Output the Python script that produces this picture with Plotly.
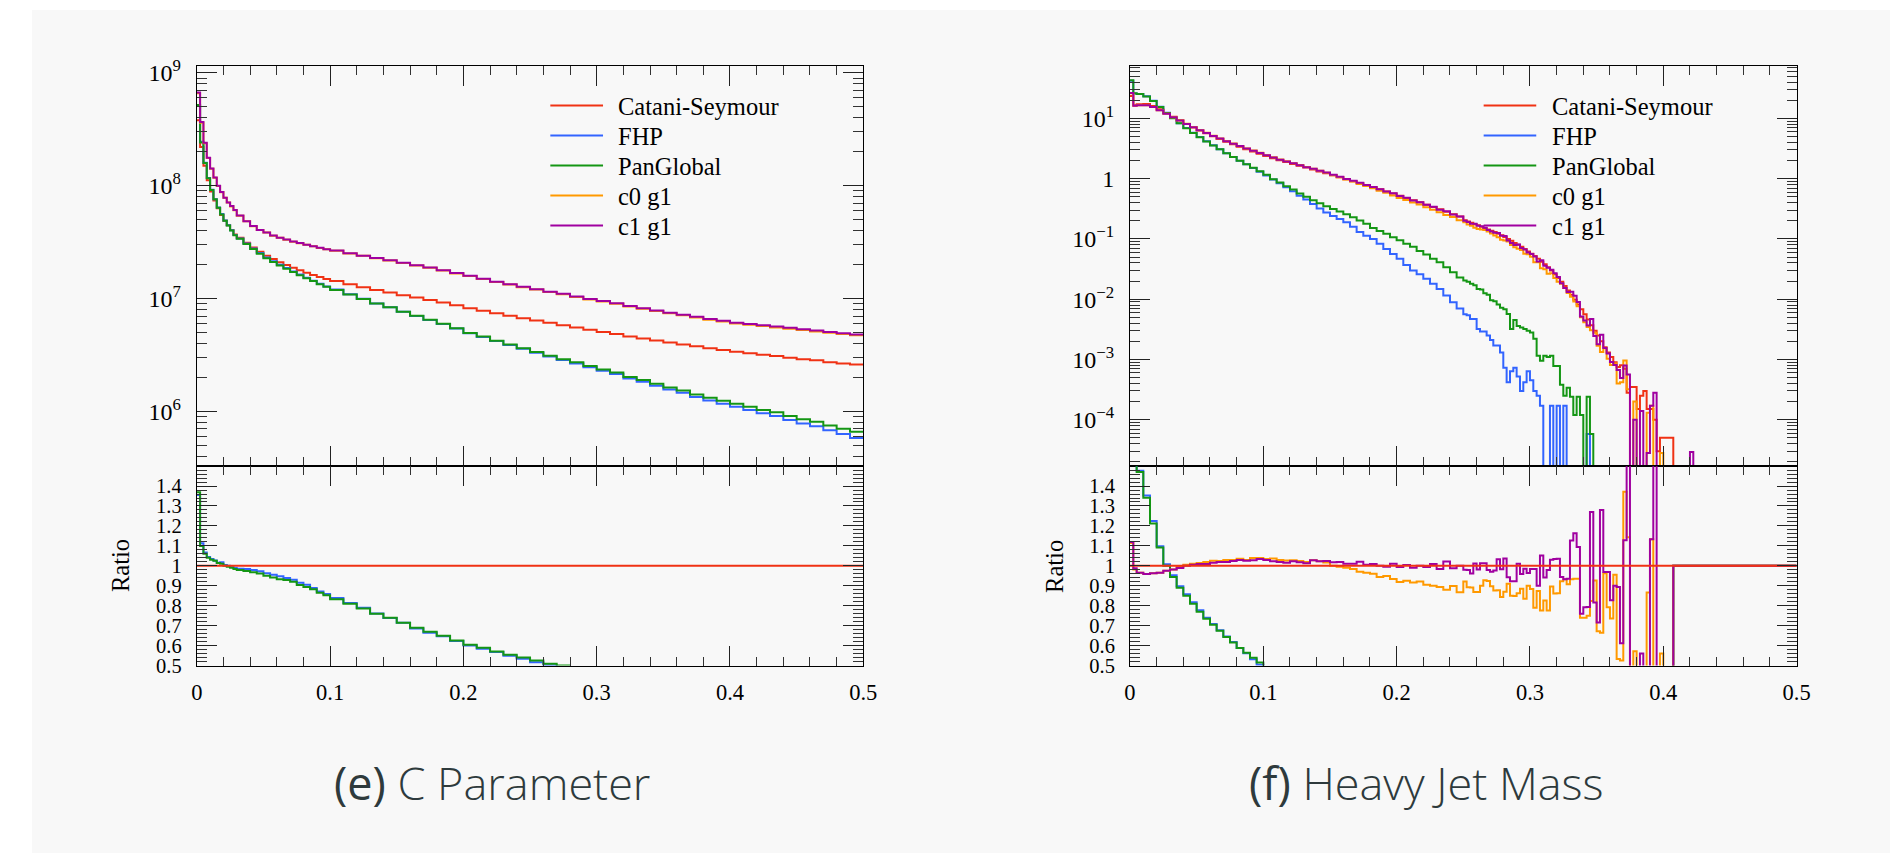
import plotly.graph_objects as go

# ---------------------------------------------------------------- data
SERIES = ["Catani-Seymour", "FHP", "PanGlobal", "c0 g1", "c1 g1"]
COLORS = ["#f03214", "#3264ff", "#149614", "#ff9900", "#a000a0"]

# C parameter: bin edges (fine near 0, coarser later)
C_EDGES = ([round(i * 0.0025, 4) for i in range(12)]
           + [round(0.03 + i * 0.005, 4) for i in range(14)]
           + [round(0.1 + i * 0.01, 4) for i in range(41)])

C_CS = [3.8e8, 2.2e8, 1.5e8, 1.12e8, 8.9e7, 7.4e7, 6.3e7, 5.5e7, 4.9e7, 4.45e7, 4.05e7, 3.7e7,
        3.45e7, 3.12e7, 2.84e7, 2.6e7, 2.4e7, 2.24e7, 2.1e7, 1.98e7, 1.87e7, 1.78e7, 1.69e7, 1.62e7, 1.55e7, 1.49e7,
        1.43e7, 1.34e7, 1.26e7, 1.19e7, 1.13e7, 1.07e7, 1.02e7, 9.7e6, 9.2e6, 8.7e6,
        8.2e6, 7.8e6, 7.4e6, 7.05e6, 6.7e6, 6.4e6, 6.1e6, 5.8e6, 5.55e6, 5.3e6,
        5.05e6, 4.85e6, 4.6e6, 4.42e6, 4.25e6, 4.08e6, 3.92e6, 3.77e6, 3.63e6, 3.5e6,
        3.38e6, 3.27e6, 3.17e6, 3.1e6, 2.98e6, 2.89e6, 2.84e6, 2.72e6, 2.65e6, 2.6e6]
C_FHP = [5.15e8, 2.45e8, 1.6e8, 1.17e8, 9.2e7, 7.6e7, 6.4e7, 5.6e7, 4.92e7, 4.45e7, 4.03e7, 3.66e7,
         3.4e7, 3.07e7, 2.78e7, 2.53e7, 2.31e7, 2.14e7, 1.99e7, 1.86e7, 1.74e7, 1.63e7, 1.53e7, 1.44e7, 1.35e7, 1.28e7,
         1.2e7, 1.09e7, 9.95e6, 9.05e6, 8.35e6, 7.65e6, 7.0e6, 6.45e6, 5.95e6, 5.42e6,
         4.93e6, 4.56e6, 4.2e6, 3.87e6, 3.58e6, 3.31e6, 3.06e6, 2.85e6, 2.66e6, 2.46e6,
         2.29e6, 2.14e6, 1.96e6, 1.83e6, 1.69e6, 1.56e6, 1.46e6, 1.34e6, 1.25e6, 1.17e6,
         1.1e6, 1.03e6, 9.6e5, 9.1e5, 8.4e5, 7.8e5, 7.4e5, 6.8e5, 6.3e5, 5.8e5]
C_PG = [5.2e8, 2.42e8, 1.59e8, 1.165e8, 9.17e7, 7.59e7, 6.39e7, 5.56e7, 4.9e7, 4.43e7, 4.01e7, 3.64e7,
        3.38e7, 3.04e7, 2.75e7, 2.5e7, 2.28e7, 2.11e7, 1.96e7, 1.84e7, 1.72e7, 1.61e7, 1.51e7, 1.43e7, 1.34e7, 1.27e7,
        1.19e7, 1.085e7, 9.9e6, 9.04e6, 8.36e6, 7.65e6, 7.04e6, 6.5e6, 5.98e6, 5.44e6,
        4.96e6, 4.6e6, 4.22e6, 3.91e6, 3.62e6, 3.36e6, 3.11e6, 2.9e6, 2.72e6, 2.52e6,
        2.35e6, 2.21e6, 2.02e6, 1.9e6, 1.76e6, 1.63e6, 1.53e6, 1.41e6, 1.32e6, 1.24e6,
        1.17e6, 1.1e6, 1.03e6, 9.8e5, 9.1e5, 8.5e5, 8.1e5, 7.5e5, 7.0e5, 6.6e5]
C_C0G1 = [6.6e8, 3.62e8, 2.38e8, 1.76e8, 1.41e8, 1.175e8, 9.95e7, 8.75e7, 7.8e7, 7.1e7, 6.55e7, 6.05e7,
          5.42e7, 4.84e7, 4.38e7, 4.04e7, 3.84e7, 3.6e7, 3.45e7, 3.32e7, 3.19e7, 3.09e7, 2.99e7, 2.9e7, 2.81e7, 2.73e7,
          2.65e7, 2.51e7, 2.39e7, 2.28e7, 2.17e7, 2.07e7, 1.96e7, 1.87e7, 1.77e7, 1.67e7,
          1.58e7, 1.49e7, 1.4e7, 1.33e7, 1.26e7, 1.2e7, 1.14e7, 1.09e7, 1.03e7, 9.8e6,
          9.4e6, 9.0e6, 8.5e6, 8.1e6, 7.75e6, 7.4e6, 7.1e6, 6.8e6, 6.5e6, 6.25e6,
          6.0e6, 5.85e6, 5.7e6, 5.55e6, 5.4e6, 5.25e6, 5.1e6, 4.97e6, 4.85e6, 4.72e6]
C_C1G1 = [6.7e8, 3.66e8, 2.4e8, 1.77e8, 1.42e8, 1.18e8, 1.0e8, 8.8e7, 7.8e7, 7.1e7, 6.6e7, 6.1e7,
          5.45e7, 4.85e7, 4.4e7, 4.05e7, 3.85e7, 3.62e7, 3.46e7, 3.33e7, 3.2e7, 3.1e7, 3.0e7, 2.91e7, 2.82e7, 2.74e7,
          2.66e7, 2.52e7, 2.4e7, 2.29e7, 2.18e7, 2.08e7, 1.97e7, 1.88e7, 1.78e7, 1.68e7,
          1.59e7, 1.5e7, 1.41e7, 1.34e7, 1.27e7, 1.21e7, 1.15e7, 1.1e7, 1.04e7, 9.9e6,
          9.5e6, 9.1e6, 8.6e6, 8.2e6, 7.85e6, 7.5e6, 7.2e6, 6.9e6, 6.6e6, 6.35e6,
          6.1e6, 5.95e6, 5.8e6, 5.65e6, 5.5e6, 5.35e6, 5.2e6, 5.05e6, 4.92e6, 4.8e6]

# Heavy jet mass: bin edges
H_EDGES = ([0.0, 0.0025] + [round(0.005 * i, 4) for i in range(1, 50)]
           + [round(0.25 + 0.0025 * i, 4) for i in range(71)] + [0.5])

H_CS = [23.5, 16.5,
        17.2, 17.3, 16.0, 14.2, 12.3, 10.7, 9.3, 8.1, 7.1, 6.3, 5.65, 5.05, 4.55, 4.1, 3.72, 3.38, 3.08, 2.82, 2.58,
        2.37, 2.19, 2.03, 1.89, 1.76, 1.64, 1.53, 1.42, 1.32, 1.23, 1.14, 1.06, 0.98, 0.91, 0.84, 0.78, 0.72, 0.665,
        0.615, 0.565, 0.52, 0.48, 0.44, 0.405, 0.37, 0.34, 0.31, 0.283, 0.258, 0.235,
        0.205, 0.195, 0.185, 0.176, 0.168, 0.16, 0.152, 0.144, 0.137, 0.13,
        0.122, 0.115, 0.108, 0.1, 0.093, 0.086, 0.08, 0.074, 0.068, 0.062,
        0.057, 0.052, 0.047, 0.042, 0.038, 0.034, 0.03, 0.026, 0.0225, 0.0195,
        0.0165, 0.014, 0.0118, 0.0098, 0.0082, 0.0068, 0.0056, 0.0046, 0.0037, 0.003,
        0.0025, 0.002, 0.0016, 0.0013, 0.0011, 0.0009, 0.00075, 0.0008, 0.0007, 0.00028,
        0.00035, 0.00035, 0.00015, 0.00025, 0.0003, 0.00015, 0.00015, 0.0001, 0.00003, 0.00005,
        0.00005, 0.00005, 0.00005, 0, 0, 0, 0, 0, 0, 0,
        0]
H_FHP = [42.0, 26.0,
         25.4, 23.4, 19.6, 15.6, 12.4, 10.2, 8.35, 6.95, 5.8, 4.9, 4.18, 3.58, 3.08, 2.65, 2.3, 1.99, 1.73, 1.5, 1.3,
         1.13, 0.97, 0.84, 0.72, 0.62, 0.52, 0.45, 0.38, 0.32, 0.275, 0.24, 0.215, 0.19, 0.16, 0.13, 0.113, 0.1, 0.083,
         0.068, 0.056, 0.047, 0.037, 0.03, 0.026, 0.0218, 0.018, 0.0148, 0.0115, 0.0089, 0.007,
         0.0056, 0.0054, 0.0047, 0.0047, 0.0032, 0.0029, 0.0029, 0.0025, 0.0021, 0.0017,
         0.0017, 0.0013, 0.00073, 0.00042, 0.00064, 0.00073, 0.00052, 0.0003, 0.00042, 0.00064,
         0.00045, 0.0003, 0.00025, 0.00017, 0, 0, 0.00017, 0, 0.00017, 0,
         0.00017, 0, 0, 0, 0, 0, 0, 0.000058, 0, 0,
         0, 0, 0, 0, 0, 0, 0, 0, 0, 0,
         0, 0, 0, 0, 0, 0, 0, 0, 0, 0,
         0, 0, 0, 0, 0, 0, 0, 0, 0, 0,
         0]
H_PG = [42.8, 26.1,
        25.3, 23.2, 19.4, 15.5, 12.3, 10.1, 8.28, 6.89, 5.75, 4.85, 4.15, 3.56, 3.07, 2.64, 2.29, 1.99, 1.74, 1.52, 1.33,
        1.16, 0.98, 0.86, 0.75, 0.66, 0.57, 0.50, 0.44, 0.39, 0.35, 0.315, 0.285, 0.258, 0.23, 0.203, 0.178, 0.152, 0.135,
        0.122, 0.107, 0.095, 0.083, 0.074, 0.063, 0.055, 0.047, 0.041, 0.034, 0.028, 0.023,
        0.0204, 0.0195, 0.018, 0.017, 0.0148, 0.0145, 0.0125, 0.0118, 0.0096, 0.0092,
        0.0082, 0.0072, 0.0068, 0.0057, 0.0032, 0.0045, 0.0036, 0.0034, 0.0032, 0.003,
        0.0028, 0.0022, 0.00115, 0.00095, 0.00115, 0.0011, 0.00115, 0.00078, 0.00078, 0.00038,
        0.00025, 0.00034, 0.00024, 0.00012, 0.00024, 0.00012, 0, 0.00024, 0.000058, 0,
        0, 0, 0, 0, 0, 0, 0, 0, 0, 0,
        0, 0, 0, 0, 0, 0, 0, 0, 0, 0,
        0, 0, 0, 0, 0, 0, 0, 0, 0, 0,
        0]
H_C0G1 = [26.2, 16.2,
          16.6, 16.6, 15.4, 13.7, 12.0, 10.5, 9.25, 8.14, 7.17, 6.39, 5.76, 5.18, 4.66, 4.22, 3.83, 3.5, 3.17, 2.93, 2.68,
          2.45, 2.27, 2.09, 1.94, 1.81, 1.68, 1.56, 1.46, 1.35, 1.25, 1.14, 1.055, 0.97, 0.896, 0.815, 0.753, 0.691, 0.628,
          0.584, 0.528, 0.478, 0.444, 0.403, 0.373, 0.335, 0.306, 0.277, 0.249, 0.232, 0.204,
          0.189, 0.174, 0.165, 0.153, 0.146, 0.144, 0.141, 0.133, 0.123, 0.114,
          0.107, 0.097, 0.094, 0.091, 0.079, 0.073, 0.069, 0.0655, 0.0568, 0.0558,
          0.0504, 0.0411, 0.0411, 0.0326, 0.0314, 0.0264, 0.0269, 0.0224, 0.0194, 0.018,
          0.0154, 0.0127, 0.011, 0.00916, 0.00767, 0.00503, 0.00414, 0.00345, 0.00305, 0.00278,
          0.00168, 0.00133, 0.00154, 0.00103, 0.00081, 0.00086, 0.0004, 0.00042, 0.00096, 0.00032,
          0, 0.0002, 0, 0, 0, 0.00013, 0.00017, 0, 0, 0.000028,
          0, 0, 0, 0, 0, 0, 0, 0, 0, 0,
          0]
H_C1G1 = [26.3, 16.3,
          16.6, 16.6, 15.4, 13.7, 12.0, 10.5, 9.2, 8.1, 7.14, 6.36, 5.7, 5.13, 4.64, 4.18, 3.81, 3.48, 3.16, 2.9, 2.67,
          2.44, 2.24, 2.07, 1.92, 1.8, 1.67, 1.55, 1.46, 1.35, 1.26, 1.16, 1.08, 0.99, 0.92, 0.857, 0.784, 0.727, 0.665,
          0.612, 0.571, 0.517, 0.482, 0.436, 0.405, 0.368, 0.343, 0.305, 0.289, 0.255, 0.235,
          0.201, 0.191, 0.178, 0.178, 0.165, 0.162, 0.154, 0.141, 0.133, 0.127,
          0.126, 0.113, 0.112, 0.0943, 0.0858, 0.0794, 0.0808, 0.071, 0.067, 0.0598,
          0.0561, 0.0512, 0.0423, 0.0442, 0.0358, 0.0333, 0.0309, 0.0269, 0.0233, 0.0184,
          0.0154, 0.0131, 0.0133, 0.0114, 0.00897, 0.00517, 0.00444, 0.00365, 0.0047, 0.00245,
          0.00179, 0.00256, 0.00155, 0.00126, 0.00091, 0.00081, 0.00067, 0.00049, 0.00079, 0.00056,
          0, 0.0001, 0, 0.00014, 0, 0.000028, 0.00017, 0.00028, 0, 0,
          0, 0, 0, 0, 0, 0, 0, 0, 0.000029, 0,
          0]

C_TICKVALS = [1e6, 1e7, 1e8, 1e9]
C_TICKTEXT = ["10<sup>6</sup>", "10<sup>7</sup>", "10<sup>8</sup>", "10<sup>9</sup>"]
H_TICKVALS = [1e-4, 1e-3, 1e-2, 1e-1, 1, 10]
H_TICKTEXT = ["10<sup>\u22124</sup>", "10<sup>\u22123</sup>", "10<sup>\u22122</sup>",
              "10<sup>\u22121</sup>", "1", "10<sup>1</sup>"]
CAPTIONS = [("(e)", "C Parameter"), ("(f)", "Heavy Jet Mass")]

# ---------------------------------------------------------------- layout constants
# page keeps an 8 px body margin; the captured viewport is ~1920x880 css px
OFF = 8
VW, VH = 1920, 880
SX, SY = VW / 1900, VH / 859
W, H = VW - 2 * OFF, VH - 2 * OFF
FONT = "Liberation Serif"
PX = lambda v: (v * SX - OFF) / W
PY = lambda v: min(1.0, 1 - (v * SY - OFF) / H)
LEFT_X = [PX(198.7), PX(865.3)]
RIGHT_X = [PX(1132.0), PX(1798.7)]
MAIN_Y = [PY(464.3), PY(64.3)]
RATIO_Y = [PY(663.7), PY(464.3)]


def steps(edges, vals, floor=None):
    y = list(vals) + [vals[-1]]
    if floor is not None:
        y = [v if v > 0 else floor for v in y]
    return list(edges), y


def ratios(vals, ref):
    return [v / r if r > 0 else 1.0 for v, r in zip(vals, ref)]


fig = go.Figure()

panels = [
    dict(edges=C_EDGES, data=[C_CS, C_FHP, C_PG, C_C0G1, C_C1G1], xa=("x", "x2"), ya=("y", "y2")),
    dict(edges=H_EDGES, data=[H_CS, H_FHP, H_PG, H_C0G1, H_C1G1], xa=("x3", "x4"), ya=("y3", "y4")),
]

for p in panels:
    edges, data = p["edges"], p["data"]
    for name, col, vals in zip(SERIES, COLORS, data):
        xs, ys = steps(edges, vals, floor=1e-30)
        fig.add_trace(go.Scatter(x=xs, y=ys, mode="lines", line=dict(color=col, width=2, shape="hv"),
                                 name=name, showlegend=False, xaxis=p["xa"][0], yaxis=p["ya"][0]))
    ref = data[0]
    for i in [1, 2, 3, 4, 0]:
        xs, ys = steps(edges, ratios(data[i], ref))
        fig.add_trace(go.Scatter(x=xs, y=ys, mode="lines", line=dict(color=COLORS[i], width=2, shape="hv"),
                                 name=SERIES[i], showlegend=False, xaxis=p["xa"][1], yaxis=p["ya"][1]))

tickfont = dict(family=FONT, size=22.5, color="black")
common = dict(showline=True, linecolor="black", linewidth=1, mirror="allticks", ticks="inside",
              tickwidth=1, tickcolor="#222", showgrid=False, zeroline=False, tickfont=tickfont)


def xaxis(domain, anchor, labels):
    return dict(domain=domain, anchor=anchor, range=[0, 0.5], tickmode="linear", tick0=0, dtick=0.1,
                ticklen=20, showticklabels=labels, ticklabelstandoff=6,
                minor=dict(ticks="inside", ticklen=9, tickwidth=1, tickcolor="#333", tick0=0, dtick=0.02,
                           showgrid=False), **common)


def log_minor(lo, hi):
    out = []
    for e in range(lo, hi + 1):
        out += [k * 10.0 ** e for k in range(2, 10)]
    return out


def log_axis(anchor, rng, tv, tt, lo, hi):
    d = dict(common)
    d["tickfont"] = dict(family=FONT, size=24, color="black")
    return dict(domain=MAIN_Y, anchor=anchor, type="log", range=rng, tickmode="array",
                tickvals=tv, ticktext=tt, ticklen=20, ticklabelstandoff=10,
                minor=dict(ticks="inside", ticklen=10, tickwidth=1, tickcolor="#333", tickmode="array",
                           tickvals=log_minor(lo, hi), showgrid=False), **d)


def ratio_axis(anchor):
    d = dict(common)
    d["tickfont"] = dict(family=FONT, size=20.5, color="black")
    return dict(domain=RATIO_Y, anchor=anchor, range=[0.5, 1.499], tickmode="linear", tick0=0.5, dtick=0.1,
                ticklen=20, ticklabelstandoff=10,
                minor=dict(ticks="inside", ticklen=10, tickwidth=1, tickcolor="#333", tick0=0.5, dtick=0.02,
                           showgrid=False), **d)


fig.update_layout(
    width=W, height=H, margin=dict(l=0, r=0, t=0, b=0),
    paper_bgcolor="white", plot_bgcolor="rgba(0,0,0,0)", showlegend=False,
    xaxis=xaxis(LEFT_X, "y", False),
    xaxis2=xaxis(LEFT_X, "y2", True),
    xaxis3=xaxis(RIGHT_X, "y3", False),
    xaxis4=xaxis(RIGHT_X, "y4", True),
    yaxis=log_axis("x", [5.5133, 9.0566], C_TICKVALS, C_TICKTEXT, 5, 8),
    yaxis3=log_axis("x3", [-4.773, 1.862], H_TICKVALS, H_TICKTEXT, -5, 1),
    yaxis2=ratio_axis("x2"),
    yaxis4=ratio_axis("x4"),
)

# page background
shapes = [dict(type="rect", xref="paper", yref="paper", x0=PX(34), x1=1, y0=0, y1=PY(7),
               fillcolor="#f8f8f8", line=dict(width=0), layer="below")]
annotations = []

# legends (one per panel)
for lx0, lx1, tx in [(552.3, 605.0, 618.3), (1485.7, 1538.3, 1551.7)]:
    for i, (name, col) in enumerate(zip(SERIES, COLORS)):
        yy = 103.3 + 30 * i
        shapes.append(dict(type="line", xref="paper", yref="paper", x0=PX(lx0), x1=PX(lx1),
                           y0=PY(yy), y1=PY(yy), line=dict(color=col, width=2)))
        annotations.append(dict(xref="paper", yref="paper", x=PX(tx), y=PY(yy + 1), xanchor="left",
                                yanchor="middle", text=name, showarrow=False,
                                font=dict(family=FONT, size=24.5, color="black")))

# "Ratio" axis titles
for xx in [123, 1057]:
    annotations.append(dict(xref="paper", yref="paper", x=PX(xx), y=PY(564), text="Ratio", textangle=-90,
                            showarrow=False, xanchor="center", yanchor="middle",
                            font=dict(family=FONT, size=24.5, color="black")))

# captions
for (tag, title), cx in zip(CAPTIONS, [494, 1429]):
    annotations.append(dict(xref="paper", yref="paper", x=PX(cx), y=PY(781), showarrow=False,
                            xanchor="center", yanchor="middle",
                            text=f"<span style='font-weight:400'>{tag}</span> {title}",
                            font=dict(family="Open Sans", size=45, color="#2e3a3c", weight=300)))

fig.update_layout(shapes=shapes, annotations=annotations)
fig.write_html("out.html")
